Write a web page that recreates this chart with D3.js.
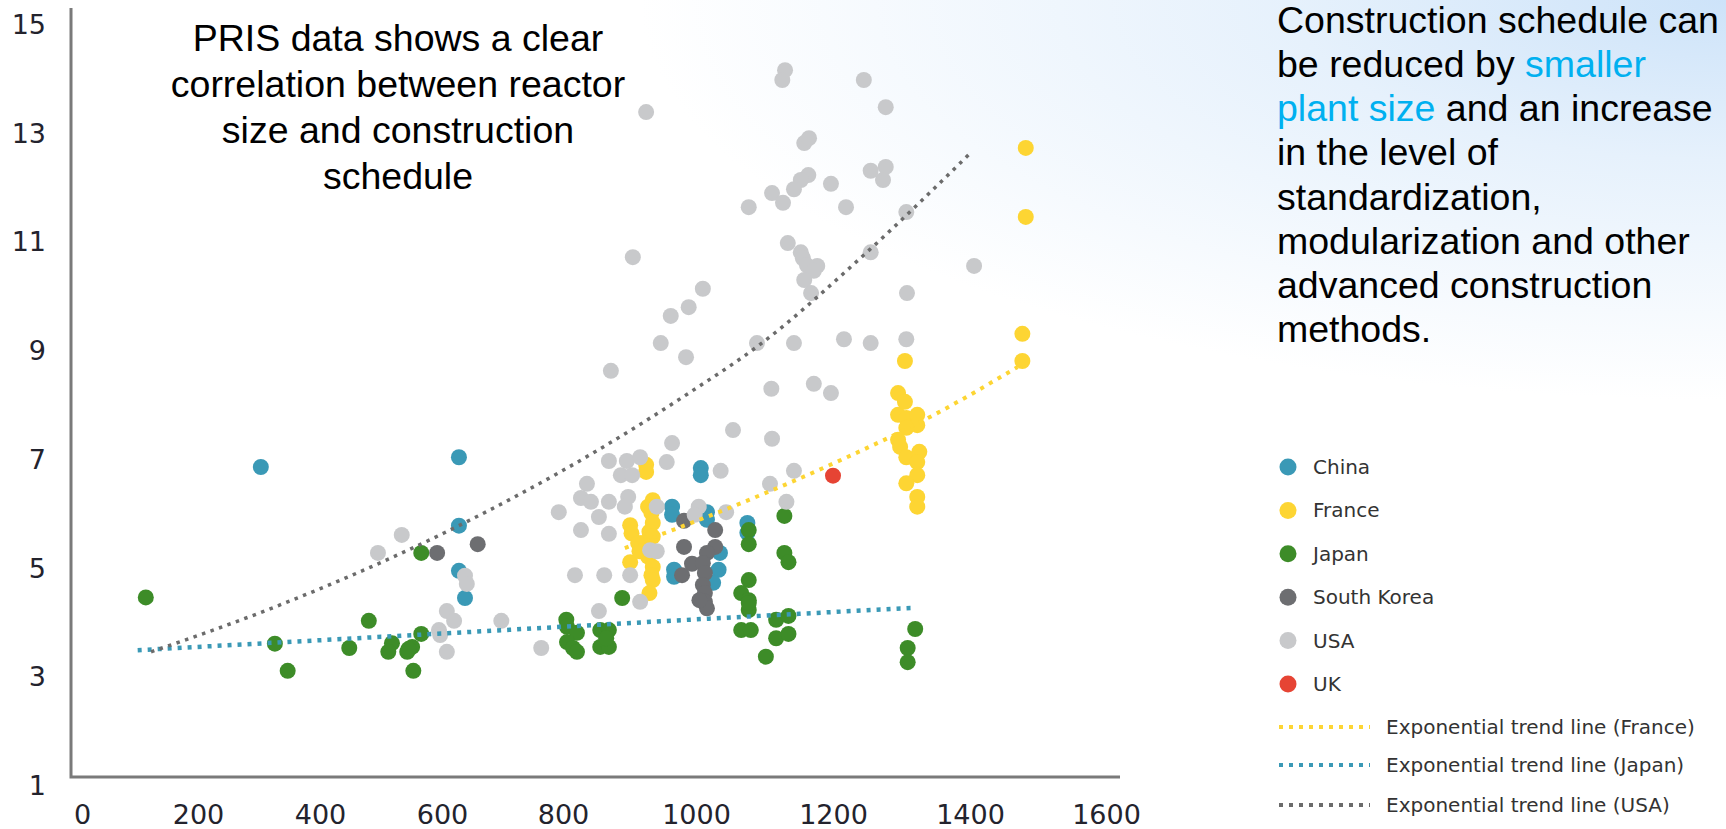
<!DOCTYPE html>
<html><head><meta charset="utf-8">
<script src="https://cdn.jsdelivr.net/npm/d3@7"></script>
<style>html,body{margin:0;padding:0;background:#fff;overflow:hidden} svg{display:block}</style>
</head><body>
<svg id="c" width="1726" height="829"></svg>
<script>
// ---------- data ----------
const xTicks = [0, 200, 400, 600, 800, 1000, 1200, 1400, 1600];
const yTicks = [1, 3, 5, 7, 9, 11, 13, 15];

const china = [[303,6.85],[628,7.03],[628,5.77],[628,4.94],[638,4.44],
  [1007,6.83],[1007,6.7],[964,6.12],[964,5.97],[1016,6.02],[1016,5.88],[1075,5.82],[1075,5.64],
  [1035,5.27],[1033,4.96],[967,4.96],[967,4.83],[1025,4.72]];

const france = [[925,6.89],[925,6.76],[928,6.12],[935,6.24],[933,6.0],[935,5.82],[930,5.66],[935,5.57],
  [920,5.45],[928,5.2],[935,5.01],[933,4.86],[935,4.77],[930,4.53],[901,5.78],[903,5.63],[901,5.1],[913,5.45],[915,5.3],
  [1295,7.81],[1307,7.75],[1323,7.81],[1323,7.62],[1307,7.57],[1295,7.35],[1298,7.22],[1307,7.03],[1326,7.13],
  [1323,6.94],[1323,6.7],[1307,6.55],[1323,6.3],[1323,6.12],[1305,8.8],[1295,8.21],[1305,8.05],
  [1477,9.3],[1477,8.8],[1482,12.72],[1482,11.45]];

const japan = [[110,4.45],[326,3.6],[347,3.1],[448,3.52],[480,4.02],[518,3.61],[512,3.45],[543,3.45],[551,3.54],
  [545,3.5],[553,3.1],[566,3.78],[566,5.27],
  [805,4.04],[806,3.91],[821,3.8],[806,3.63],[815,3.52],[821,3.45],[856,3.85],[856,3.54],[869,3.85],[869,3.54],[865,3.7],
  [889,4.44],
  [1077,5.69],[1077,5.43],[1077,4.77],[1066,4.53],[1077,4.4],[1077,4.22],[1066,3.85],[1080,3.85],[1077,4.35],
  [1102,3.36],[1117,4.04],[1117,3.7],[1135,4.11],[1135,3.78],[1129,5.95],[1129,5.27],[1135,5.1],
  [1320,3.87],[1309,3.52],[1309,3.26]];

const southKorea = [[592,5.27],[659,5.43],[982,5.86],[982,5.38],[994,5.07],[979,4.86],[1028,5.69],[1028,5.38],
  [1016,5.27],[1010,5.08],[1013,4.9],[1010,4.68],[1013,4.53],[1013,4.37],[1016,4.25],[1005,4.4]];

const usa = [[495,5.27],[534,5.6],[638,4.85],[641,4.7],[608,4.2],[620,4.02],[595,3.85],[597,3.76],[608,3.45],
  [698,4.02],[764,3.52],[793,6.02],[827,5.69],[827,6.28],[842,6.21],[836,6.54],[818,4.86],[854,5.93],[854,4.2],
  [869,6.96],[896,6.96],[916,7.03],[887,6.7],[904,6.7],[869,6.21],[898,6.3],[893,6.12],[869,5.62],[862,4.86],
  [901,4.86],[916,4.37],
  [956,6.94],[964,7.29],[1054,7.53],[1111,7.37],[1036,6.78],[1143,6.78],[1108,6.54],[1132,6.21],[1044,6.02],
  [1004,6.12],[998,5.97],[931,5.32],[941,5.3],[941,6.12],
  [1130,14.15],[1126,13.97],[1245,13.97],[1277,13.47],[925,13.38],[1158,12.81],[1165,12.9],[1255,12.3],
  [1277,12.37],[1273,12.13],[1164,12.22],[1153,12.13],[1143,11.96],[1111,11.89],[1127,11.71],[1197,12.06],
  [1077,11.63],[1219,11.63],[1307,11.54],
  [1134,10.97],[1153,10.8],[1156,10.69],[1162,10.56],[1177,10.55],[1172,10.46],[1255,10.8],[1158,10.29],
  [1168,10.05],[1406,10.55],[1308,10.05],[905,10.71],[1010,10.13],[989,9.79],[962,9.63],[947,9.13],[985,8.87],
  [872,8.62],[1089,9.13],[1143,9.13],[1216,9.2],[1255,9.13],[1307,9.2],[1110,8.29],[1172,8.38],[1197,8.21]];

const uk = [[1200,6.69]];

const trendFrance = [[893,5.36],[1055,6.13],[1203,6.93],[1346,7.8],[1470,8.69]];
const trendJapan  = [[96,3.48],[637,3.81],[1019,4.06],[1317,4.26]];
const trendUSA    = [[119,3.45],[318,4.24],[604,5.64],[851,7.15],[988,8.2],[1093,9.1],[1245,10.75],[1401,12.63]];

const countryNames = ["China", "France", "Japan", "South Korea", "USA", "UK"];
const trendNames = ["Exponential trend line (France)", "Exponential trend line (Japan)", "Exponential trend line (USA)"];

// ---------- styles ----------
const colors = {China:"#3a99b6", France:"#fdd533", Japan:"#3d8c28", "South Korea":"#6d6e71", USA:"#c8c9cb", UK:"#e64434"};
const series = {China:china, France:france, Japan:japan, "South Korea":southKorea, USA:usa, UK:uk};
const trends = [
  {name:trendNames[0], data:trendFrance, color:"#fdd533", w:4, dash:"4 6"},
  {name:trendNames[1], data:trendJapan, color:"#3a99b6", w:4.5, dash:"4 6"},
  {name:trendNames[2], data:trendUSA, color:"#6b6b6b", w:3.5, dash:"3.5 5.5"}
];

const svg = d3.select("#c");
const W = 1726, H = 829;

// background gradient (top-right)
const defs = svg.append("defs");
const rg = defs.append("radialGradient").attr("id","bg")
  .attr("cx",1).attr("cy",0).attr("r",1).attr("fx",1).attr("fy",0);
rg.append("stop").attr("offset","0%").attr("stop-color","#cde3f9");
rg.append("stop").attr("offset","40%").attr("stop-color","#e6f1fc");
rg.append("stop").attr("offset","100%").attr("stop-color","#ffffff");
svg.append("rect").attr("width",W).attr("height",H).attr("fill","#fff");
svg.append("rect").attr("x",640).attr("y",0).attr("width",W-640).attr("height",400).attr("fill","url(#bg)");

// scales
const x = d3.scaleLinear().domain(xTicks).range([82,198,320,442,563,696,833,970,1106]);
const y = d3.scaleLinear().domain([1,15]).range([785,24]);

// axes
const axisFont = "'DejaVu Sans', Verdana, sans-serif";
const gx = svg.append("g").attr("transform","translate(0,815)")
  .call(d3.axisBottom(x).tickValues(xTicks).tickSize(0).tickPadding(0).tickFormat(d3.format("d")));
gx.select(".domain").remove();
gx.selectAll("text").attr("dy","0.35em").attr("font-size",27).attr("font-family",axisFont).attr("fill","#23232d");

const gy = svg.append("g").attr("transform","translate(46,0)")
  .call(d3.axisLeft(y).tickValues(yTicks).tickSize(0).tickPadding(0).tickFormat(d3.format("d")));
gy.select(".domain").remove();
gy.selectAll("text").attr("dy","0.35em").attr("font-size",27).attr("font-family",axisFont).attr("fill","#23232d");

// frame lines
svg.append("path").attr("d","M71,8V777H1120").attr("fill","none").attr("stroke","#7a7a7a").attr("stroke-width",3);

// points
const gp = svg.append("g");
countryNames.forEach(n => {
  gp.append("g").selectAll("circle").data(series[n]).join("circle")
    .attr("cx",d=>x(d[0])).attr("cy",d=>y(d[1])).attr("r",8).attr("fill",colors[n]);
});

// trend lines
const line = d3.line().x(d=>x(d[0])).y(d=>y(d[1])).curve(d3.curveMonotoneX);
trends.forEach(t => {
  svg.append("path").datum(t.data).attr("d",line).attr("fill","none")
    .attr("stroke",t.color).attr("stroke-width",t.w).attr("stroke-dasharray",t.dash);
});

// annotation top-left
const ann = ["PRIS data shows a clear","correlation between reactor","size and construction","schedule"];
svg.append("g").selectAll("text").data(ann).join("text")
  .attr("x",398).attr("y",(d,i)=>38+i*46).attr("dy","0.35em").attr("text-anchor","middle")
  .attr("font-family","'Liberation Sans', Arial, sans-serif").attr("font-size",37.5).attr("fill","#000")
  .text(d=>d);

// right text
const rt = svg.append("text").attr("font-family","'Liberation Sans', Arial, sans-serif").attr("font-size",37.5).attr("fill","#000");
const rLines = [
  [["Construction schedule can",0]],
  [["be reduced by ",0],["smaller",1]],
  [["plant size",1],[" and an increase",0]],
  [["in the level of",0]],
  [["standardization,",0]],
  [["modularization and other",0]],
  [["advanced construction",0]],
  [["methods.",0]]
];
rLines.forEach((ln,i)=>{
  ln.forEach((seg,j)=>{
    const ts = rt.append("tspan").text(seg[0]).attr("fill", seg[1] ? "#00b0f0" : "#000");
    if (j===0) ts.attr("x",1277).attr("y",20+i*44.1).attr("dy","0.35em");
  });
});

// legend
const legFont = "'DejaVu Sans', Verdana, sans-serif";
const lg = svg.append("g");
countryNames.forEach((n,i)=>{
  const yy = 467 + i*43.4;
  lg.append("circle").attr("cx",1288).attr("cy",yy).attr("r",8.5).attr("fill",colors[n]);
  lg.append("text").attr("x",1313).attr("y",yy).attr("dy","0.35em").attr("font-family",legFont)
    .attr("font-size",20).attr("fill","#333").text(n);
});
const trendY = [727, 765, 805];
trends.forEach((t,i)=>{
  lg.append("line").attr("x1",1279).attr("x2",1370).attr("y1",trendY[i]).attr("y2",trendY[i])
    .attr("stroke",t.color).attr("stroke-width",4).attr("stroke-dasharray","4 6");
  lg.append("text").attr("x",1386).attr("y",trendY[i]).attr("dy","0.35em").attr("font-family",legFont)
    .attr("font-size",20).attr("fill","#333").text(t.name);
});
</script>
</body></html>
